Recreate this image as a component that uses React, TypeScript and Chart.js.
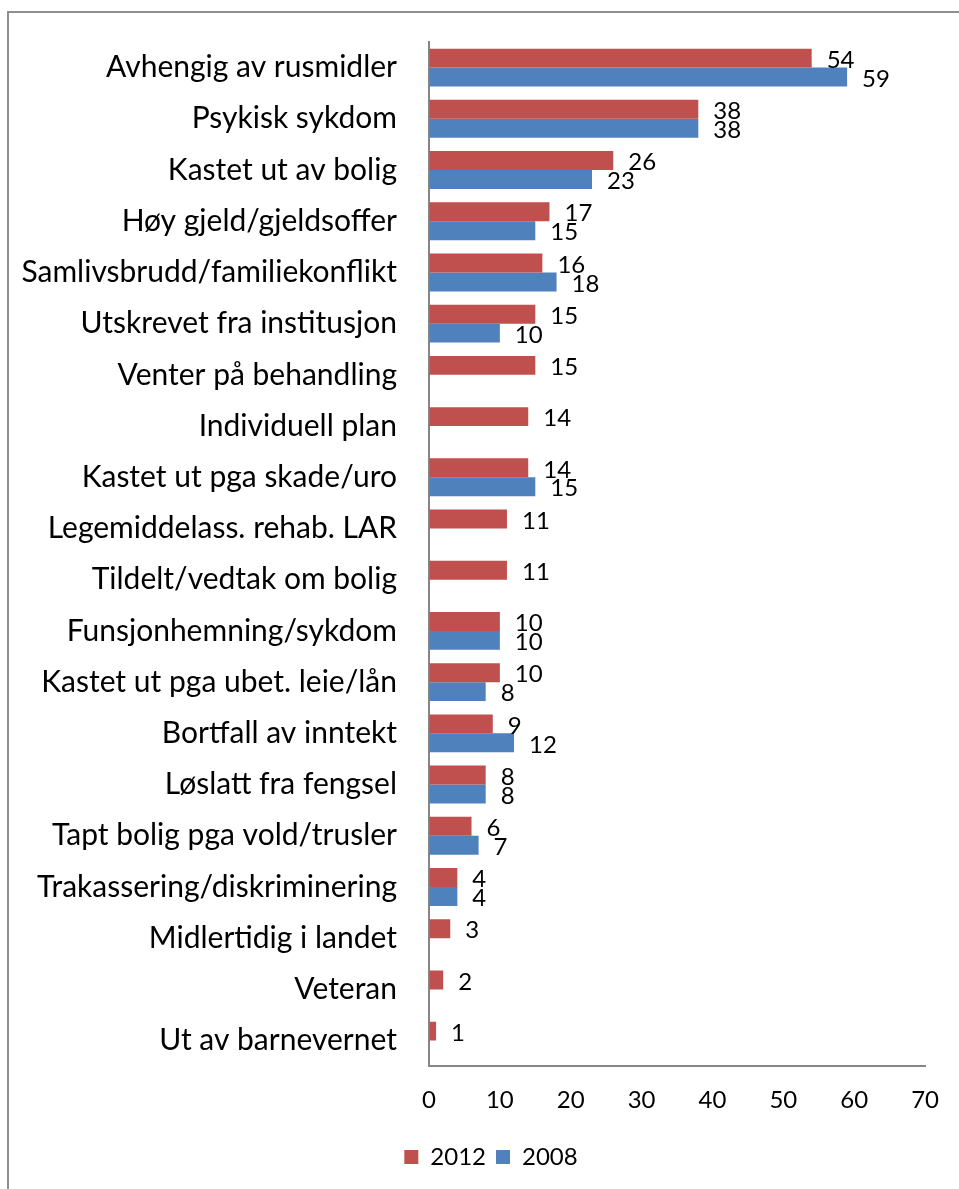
import React, { useEffect, useRef } from "react";
import { Chart, registerables } from "chart.js";

Chart.register(...registerables);

const categories: string[] = [
  "Avhengig av rusmidler",
  "Psykisk sykdom",
  "Kastet ut av bolig",
  "Høy gjeld/gjeldsoffer",
  "Samlivsbrudd/familiekonflikt",
  "Utskrevet fra institusjon",
  "Venter på behandling",
  "Individuell plan",
  "Kastet ut pga skade/uro",
  "Legemiddelass. rehab. LAR",
  "Tildelt/vedtak om bolig",
  "Funsjonhemning/sykdom",
  "Kastet ut pga ubet. leie/lån",
  "Bortfall av inntekt",
  "Løslatt fra fengsel",
  "Tapt bolig pga vold/trusler",
  "Trakassering/diskriminering",
  "Midlertidig i landet",
  "Veteran",
  "Ut av barnevernet",
];

const values2012: (number | null)[] = [54, 38, 26, 17, 16, 15, 15, 14, 14, 11, 11, 10, 10, 9, 8, 6, 4, 3, 2, 1];
const values2008: (number | null)[] = [59, 38, 23, 15, 18, 10, null, null, 15, null, null, 10, 8, 12, 8, 7, 4, null, null, null];

const xTicks: number[] = [0, 10, 20, 30, 40, 50, 60, 70];

const FONT = "Lato, 'Noto Sans', sans-serif";

const dataLabels = {
  id: "dataLabels",
  afterDatasetsDraw(chart: any) {
    const ctx = chart.ctx;
    ctx.save();
    ctx.font = `24px ${FONT}`;
    ctx.fillStyle = "#000";
    ctx.textAlign = "left";
    ctx.textBaseline = "middle";
    chart.data.datasets.forEach((ds: any, i: number) => {
      const meta = chart.getDatasetMeta(i);
      meta.data.forEach((el: any, j: number) => {
        const v = ds.data[j];
        if (v === null || v === undefined) return;
        ctx.fillText(String(v), el.x + 15, el.y + 2);
      });
    });
    ctx.restore();
  },
};

// let the category labels use the space left of the axis box
const widenLabelArea = {
  id: "widenLabelArea",
  afterLayout(chart: any) {
    if (chart.scales.y) chart.scales.y.left = 0;
  },
};

export default function App() {
  const ref = useRef<HTMLCanvasElement>(null);
  useEffect(() => {
    if (!ref.current) return;
    const chart = new Chart(ref.current, {
      type: "bar",
      data: {
        labels: categories,
        datasets: [
          { label: "2012", data: values2012 as any, backgroundColor: "#C0504D", barPercentage: 1, categoryPercentage: 0.74 },
          { label: "2008", data: values2008 as any, backgroundColor: "#4F81BD", barPercentage: 1, categoryPercentage: 0.74 },
        ],
      },
      options: {
        indexAxis: "y",
        animation: false,
        responsive: false,
        maintainAspectRatio: false,
        layout: { padding: { top: 42, left: 54, right: 31, bottom: 10 } },
        plugins: {
          legend: {
            position: "bottom",
            labels: {
              boxWidth: 14,
              boxHeight: 14,
              color: "#000",
              font: { family: FONT, size: 24 },
              padding: 10,
            },
          },
          tooltip: { enabled: false },
        },
        scales: {
          x: {
            min: 0,
            max: 70,
            afterBuildTicks: (axis: any) => {
              axis.ticks = xTicks.map((v) => ({ value: v }));
            },
            grid: { display: true, color: "rgba(0,0,0,0)", drawTicks: false },
            border: { display: true, color: "#868686", width: 2 },
            ticks: { color: "#000", font: { family: FONT, size: 24 }, padding: 20, maxRotation: 0 },
          },
          y: {
            afterFit: (axis: any) => {
              axis.width = 375;
            },
            grid: { display: true, color: "rgba(0,0,0,0)", drawTicks: true, tickLength: 9, tickColor: "rgba(0,0,0,0)" },
            border: { display: true, color: "#868686", width: 2 },
            ticks: { color: "#000", font: { family: FONT, size: 30 }, padding: 23, autoSkip: false },
          },
        },
      },
      plugins: [dataLabels, widenLabelArea],
    });
    return () => chart.destroy();
  }, []);
  return (
    <div style={{ position: "absolute", left: 0, top: 0, width: 959, height: 1189, background: "#fff", overflow: "hidden" }}>
      <div
        style={{
          position: "absolute",
          left: 7,
          top: 11,
          width: 1000,
          height: 1300,
          borderLeft: "2px solid #8e8e8e",
          borderTop: "2px solid #8e8e8e",
        }}
      />
      <canvas ref={ref} width={959} height={1189} style={{ position: "absolute", left: 0, top: 0, width: 959, height: 1189 }} />
    </div>
  );
}
